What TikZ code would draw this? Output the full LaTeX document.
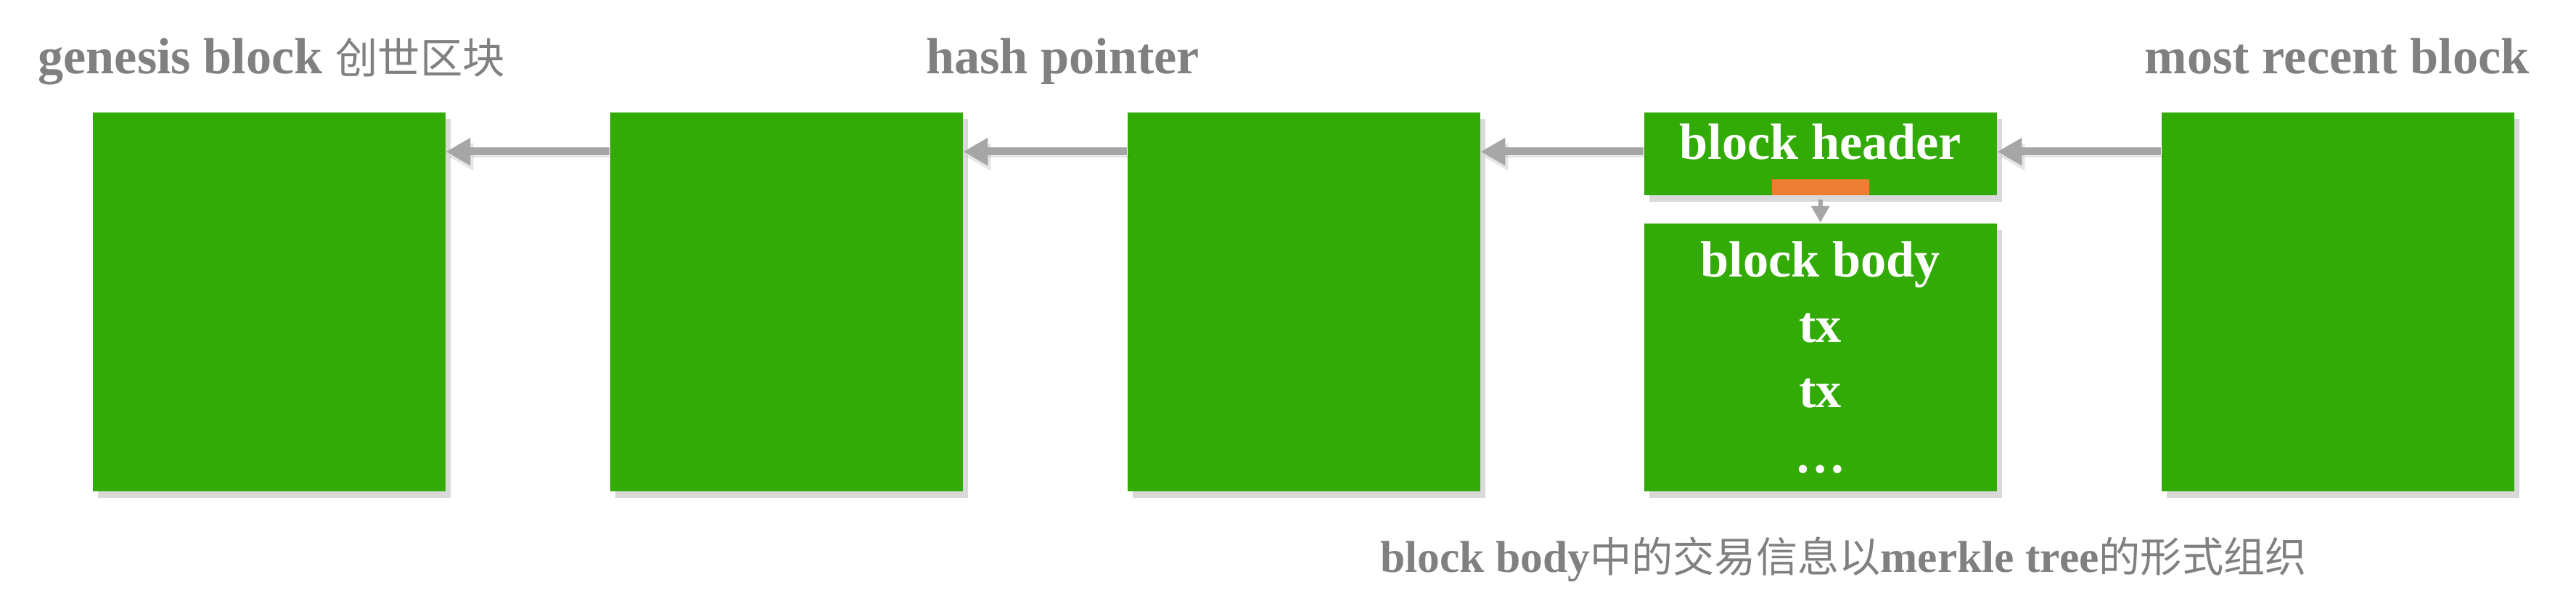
\documentclass[tikz,border=0pt]{standalone}
\usepackage{fontspec}
\setmainfont{Liberation Serif}
\newfontfamily\cjk[Scale=0.83]{Noto Sans CJK SC}
\newfontfamily\cjknote[Scale=0.93]{Noto Sans CJK SC}
\usetikzlibrary{arrows.meta,shadows}
\definecolor{blockgreen}{RGB}{50,171,6}
\definecolor{hashorange}{RGB}{237,125,49}
\definecolor{ptrgray}{RGB}{166,166,166}
\definecolor{labelgray}{RGB}{128,128,128}
\begin{document}
\begin{tikzpicture}[every node/.style={font=\bfseries\fontsize{20}{25.6}\selectfont},
  blk/.style={fill=blockgreen, text=white, inner sep=0pt, minimum width=4.86cm, anchor=north west,
    drop shadow={shadow xshift=0.07cm, shadow yshift=-0.09cm, opacity=0.3}},
  ptr/.style={draw=ptrgray, line width=0.11cm, -{Triangle[length=0.34cm,width=0.36cm]},
    preaction={draw=black, opacity=0.1, transform canvas={xshift=0.04cm,yshift=-0.07cm}}},
  ptrsmall/.style={draw=ptrgray, line width=0.06cm, -{Triangle[length=0.23cm,width=0.24cm]}},
  lbl/.style={text=labelgray}]
\useasboundingbox (0,0) rectangle (35.5,-8.35);
% chain of blocks
\node[blk, minimum height=5.22cm] (gen) at (1.27,-1.54) {};
\node[blk, minimum height=5.22cm] (b2) at (8.40,-1.54) {};
\node[blk, minimum height=5.22cm] (b3) at (15.53,-1.54) {};
\node[blk, minimum height=1.14cm, text depth=0.33cm] (hdr) at (22.65,-1.54) {block header};
\node[blk, minimum height=3.69cm, align=center] (body) at (22.65,-3.07) {block body\\tx\\tx\\…};
\node[blk, minimum height=5.22cm] (recent) at (29.78,-1.54) {};
\node[fill=hashorange, inner sep=0pt, minimum width=1.34cm, minimum height=0.22cm, anchor=south] (hash) at (hdr.south) {};
% hash pointers
\draw[ptr] ([yshift=-0.55cm]b2.north west) -- ([yshift=-0.55cm]gen.north east);
\draw[ptr] ([yshift=-0.55cm]b3.north west) -- ([yshift=-0.55cm]b2.north east);
\draw[ptr] ([yshift=-0.55cm]hdr.north west) -- ([yshift=-0.55cm]b3.north east);
\draw[ptr] ([yshift=-0.55cm]recent.north west) -- ([yshift=-0.55cm]hdr.north east);
\draw[ptrsmall] ([yshift=-0.06cm]hdr.south) -- (body.north);
% labels
\node[lbl, anchor=base west] (genlbl) at (0.40,-1.02) {genesis block {\cjk\mdseries 创世区块}};
\node[lbl, anchor=base] (ptrlbl) at (14.645,-1.02) {hash pointer};
\node[lbl, anchor=base east] (recentlbl) at (34.98,-1.02) {most recent block};
\node[lbl, anchor=base west, font=\bfseries\fontsize{17.5}{21}\selectfont] (note) at (18.90,-7.89)
  {block body{\cjknote\mdseries 中的交易信息以}merkle tree{\cjknote\mdseries 的形式组织}};
\end{tikzpicture}
\end{document}
